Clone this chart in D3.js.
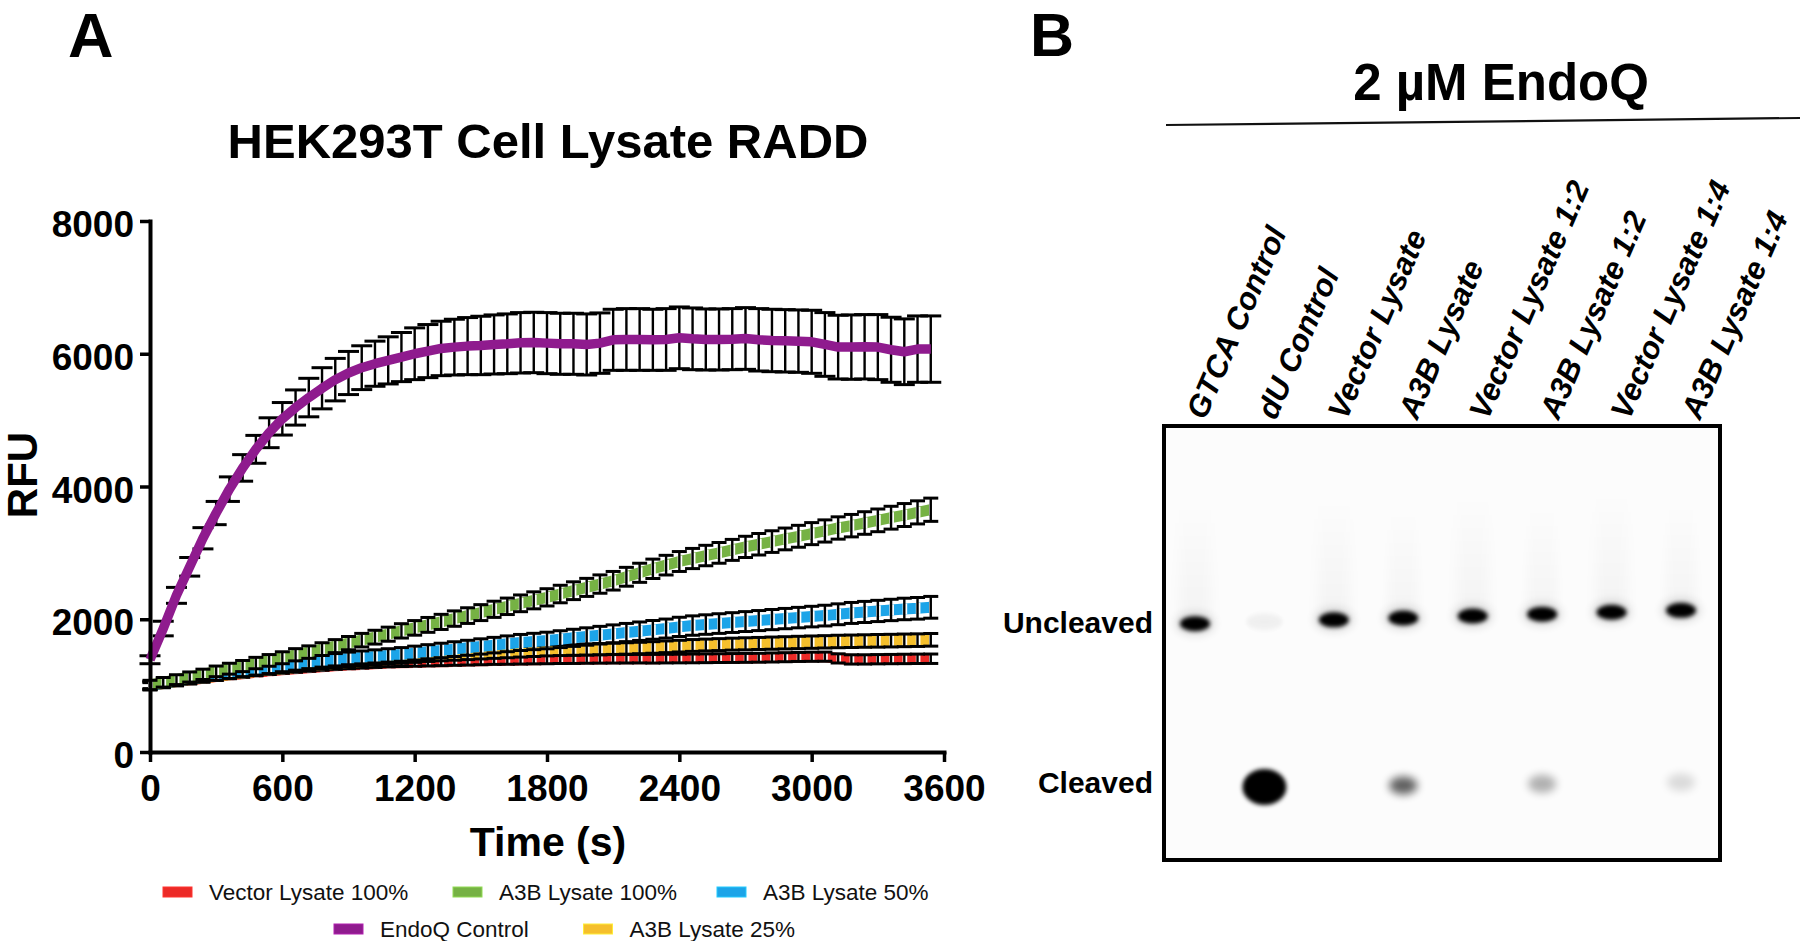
<!DOCTYPE html>
<html><head><meta charset="utf-8">
<script src="https://cdn.jsdelivr.net/npm/d3@7/dist/d3.min.js"></script>
<style>
body{margin:0;background:#fff}
svg{display:block}
text{font-family:"Liberation Sans",Arial,Helvetica,sans-serif}
</style>
</head><body>
<svg id="chart" width="1800" height="941"></svg>
<script>
// ---------------- DATA ----------------
const timePoints = [0,60,120,180,240,300,360,420,480,540,600,660,720,780,840,900,960,1020,1080,1140,
  1200,1260,1320,1380,1440,1500,1560,1620,1680,1740,1800,1860,1920,1980,2040,2100,2160,2220,2280,2340,
  2400,2460,2520,2580,2640,2700,2760,2820,2880,2940,3000,3060,3120,3180,3240,3300,3360,3420,3480,3540];

const vectorLysate100 = [1000,1030,1060,1085,1110,1135,1160,1180,1200,1220,1240,1255,1270,1285,1300,1310,1320,1330,1340,1345,
  1350,1355,1360,1365,1370,1375,1380,1383,1386,1390,1392,1395,1397,1400,1402,1404,1405,1406,1405,1407,
  1408,1410,1412,1414,1416,1418,1420,1424,1428,1432,1435,1436,1410,1395,1395,1398,1400,1402,1404,1405];
const vectorLysate100SD = [45,46,47,48,48,49,50,50,51,52,52,53,54,54,55,55,56,56,57,57,
  58,58,59,59,60,60,60,61,61,62,62,62,63,63,63,64,64,64,65,65,
  65,66,66,66,67,67,67,68,68,68,69,69,69,70,70,70,70,71,71,71];

const a3bLysate100 = [1010,1050,1090,1130,1170,1215,1255,1295,1340,1380,1420,1465,1505,1550,1595,1640,1685,1730,1775,1825,
  1870,1915,1960,2010,2055,2100,2150,2195,2240,2285,2330,2380,2430,2480,2530,2580,2640,2700,2760,2815,
  2870,2915,2960,3000,3045,3090,3130,3170,3210,3250,3290,3330,3375,3410,3450,3490,3530,3570,3610,3650];
const a3bLysate100SD = [70,72,74,76,78,80,82,84,86,88,90,92,94,96,98,100,102,104,106,108,
  110,112,114,116,118,120,122,124,126,128,130,132,134,136,138,140,142,144,146,148,
  150,152,154,156,158,160,162,163,164,165,166,167,168,169,170,171,172,173,174,175];

const a3bLysate50 = [1000,1035,1065,1095,1125,1155,1185,1215,1240,1265,1295,1320,1345,1370,1390,1410,1425,1440,1455,1470,
  1490,1510,1530,1550,1570,1590,1610,1630,1650,1665,1680,1700,1720,1740,1760,1780,1800,1820,1840,1860,
  1885,1905,1920,1935,1950,1965,1980,1995,2010,2025,2040,2055,2075,2095,2110,2125,2140,2155,2165,2180];
const a3bLysate50SD = [65,67,69,71,73,75,77,79,81,83,85,87,89,91,93,95,97,99,101,103,
  105,107,109,111,113,115,117,119,121,123,125,127,129,131,133,135,137,139,141,143,
  145,146,147,148,149,150,151,152,153,154,155,156,157,158,159,160,161,162,163,164];

const endoQControl = [1390,1860,2360,2790,3220,3600,3960,4280,4560,4810,5020,5190,5340,5480,5610,5710,5790,5850,5900,5950,
  6000,6040,6080,6100,6115,6125,6140,6150,6165,6170,6160,6150,6150,6140,6160,6210,6215,6215,6210,6215,
  6240,6225,6215,6215,6220,6230,6210,6200,6195,6190,6180,6140,6100,6100,6105,6100,6060,6030,6070,6070];
const endoQControlSD = [60,110,120,140,160,175,185,200,210,225,245,265,290,310,320,325,330,340,355,370,
  390,400,410,420,430,440,445,450,455,455,460,460,460,460,455,460,465,465,460,465,
  465,465,460,460,460,465,470,470,470,470,475,480,480,485,485,490,490,495,500,500];

const a3bLysate25 = [1000,1030,1060,1090,1115,1140,1165,1190,1215,1235,1255,1275,1295,1315,1335,1350,1365,1380,1395,1410,
  1425,1440,1450,1460,1470,1480,1490,1500,1510,1520,1530,1535,1540,1545,1550,1555,1560,1567,1575,1585,
  1595,1605,1612,1618,1625,1630,1635,1640,1645,1650,1655,1660,1665,1668,1672,1675,1678,1682,1685,1690];
const a3bLysate25SD = [55,56,57,58,59,60,61,62,63,64,65,66,67,68,69,70,71,72,73,74,
  75,76,76,77,78,78,79,80,80,81,82,82,83,84,84,85,86,86,87,88,
  88,89,89,90,90,91,91,92,92,93,93,93,94,94,94,95,95,95,95,95];

const seriesNames = ["Vector Lysate 100%","A3B Lysate 100%","A3B Lysate 50%","EndoQ Control","A3B Lysate 25%"];
const seriesColors = ["#ec2a27","#76b244","#1ca4e8","#8f1b8e","#f5bf2c"];

const yTicks = [0,2000,4000,6000,8000];
const xTicks = [0,600,1200,1800,2400,3000,3600];

// Gel (panel B)
const laneLabels = ["GTCA Control","dU Control","Vector Lysate","A3B Lysate","Vector Lysate 1:2","A3B Lysate 1:2","Vector Lysate 1:4","A3B Lysate 1:4"];
const bandRows = ["Uncleaved","Cleaved"];
const uncleavedSignal = [100,4,100,95,100,95,100,95];
const cleavedSignal = [0,250,0,62,0,30,0,13];

// ---------------- DRAW ----------------
const svg = d3.select("#chart");
svg.append("rect").attr("width",1800).attr("height",941).attr("fill","#fff");

const defs = svg.append("defs");
const mkBlur = (id,sd)=>defs.append("filter").attr("id",id).attr("x","-100%").attr("y","-100%")
  .attr("width","300%").attr("height","300%").append("feGaussianBlur").attr("stdDeviation",sd);
mkBlur("blur2",2.3); mkBlur("blur4",4); mkBlur("blur6",6);

// Panel letters
svg.append("text").attr("x",68).attr("y",57).attr("font-size",63).attr("font-weight","bold").text("A");
svg.append("text").attr("x",1030).attr("y",56).attr("font-size",61).attr("font-weight","bold").text("B");

// ---- Panel A ----
const x = d3.scaleLinear().domain([0,3600]).range([150,944]);
const y = d3.scaleLinear().domain([0,8000]).range([752,221]);

svg.append("text").attr("x",548).attr("y",158).attr("text-anchor","middle")
  .attr("font-size",49).attr("font-weight","bold").text("HEK293T Cell Lysate RADD");

const series = [
  {name:seriesNames[0], color:seriesColors[0], v:vectorLysate100, sd:vectorLysate100SD},
  {name:seriesNames[4], color:seriesColors[4], v:a3bLysate25, sd:a3bLysate25SD},
  {name:seriesNames[2], color:seriesColors[2], v:a3bLysate50, sd:a3bLysate50SD},
  {name:seriesNames[1], color:seriesColors[1], v:a3bLysate100, sd:a3bLysate100SD},
  {name:seriesNames[3], color:seriesColors[3], v:endoQControl, sd:endoQControlSD, barsBelow:true}
];

const plot = svg.append("g");
const line = d3.line().x(d=>x(d.t)).y(d=>y(d.v));

series.forEach(s=>{
  const pts = timePoints.map((t,i)=>({t, v:s.v[i], sd:s.sd[i]}));
  const g = plot.append("g");
  const capW = s.barsBelow ? 10.5 : 7.5;
  const drawBars = (halo)=>{
    const eb = g.append("g");
    if(halo){
      eb.selectAll("line.halo").data(pts).join("line")
        .attr("x1",d=>x(d.t)+0.6).attr("x2",d=>x(d.t)+0.6)
        .attr("y1",d=>y(d.v)-5.5).attr("y2",d=>y(d.v)+5.5)
        .attr("stroke","#fff").attr("stroke-width",4.6);
    }
    eb.selectAll("line.v").data(pts).join("line")
      .attr("x1",d=>x(d.t)).attr("x2",d=>x(d.t))
      .attr("y1",d=>y(d.v+d.sd)).attr("y2",d=>y(d.v-d.sd))
      .attr("stroke","#000").attr("stroke-width",2.4);
    eb.selectAll("line.top").data(pts).join("line")
      .attr("x1",d=>x(d.t)-capW).attr("x2",d=>x(d.t)+capW)
      .attr("y1",d=>y(d.v+d.sd)).attr("y2",d=>y(d.v+d.sd))
      .attr("stroke","#000").attr("stroke-width",3);
    eb.selectAll("line.bot").data(pts).join("line")
      .attr("x1",d=>x(d.t)-capW).attr("x2",d=>x(d.t)+capW)
      .attr("y1",d=>y(d.v-d.sd)).attr("y2",d=>y(d.v-d.sd))
      .attr("stroke","#000").attr("stroke-width",3);
  };
  if(s.barsBelow){
    drawBars(false);
    g.append("path").datum(pts).attr("d",line).attr("fill","none")
      .attr("stroke",s.color).attr("stroke-width",9.5).attr("stroke-linejoin","round");
  } else {
    g.append("path").datum(pts).attr("d",line).attr("fill","none")
      .attr("stroke",s.color).attr("stroke-width",11).attr("stroke-linejoin","round");
    drawBars(true);
  }
});

// axes
const yAxis = svg.append("g").attr("transform","translate(150,0)")
  .call(d3.axisLeft(y).tickValues(yTicks).tickFormat(d3.format("d")).tickSize(10).tickSizeOuter(0).tickPadding(6));
const xAxis = svg.append("g").attr("transform","translate(0,752)")
  .call(d3.axisBottom(x).tickValues(xTicks).tickFormat(d3.format("d")).tickSize(10).tickSizeOuter(0).tickPadding(13));
[yAxis,xAxis].forEach(a=>{
  a.select(".domain").attr("stroke","#000").attr("stroke-width",4).attr("stroke-linecap","square");
  a.selectAll(".tick line").attr("stroke","#000").attr("stroke-width",3.5);
  a.selectAll(".tick text").attr("fill","#000").attr("font-size",37).attr("font-weight","bold")
    .attr("font-family","'Liberation Sans',Arial,sans-serif");
});
yAxis.selectAll(".tick text").attr("dy","0.42em");

svg.append("text").attr("transform","translate(37,475) rotate(-90)").attr("text-anchor","middle")
  .attr("font-size",42).attr("font-weight","bold").text("RFU");
svg.append("text").attr("x",548).attr("y",856).attr("text-anchor","middle")
  .attr("font-size",41).attr("font-weight","bold").text("Time (s)");

// legend
const legendLayout = [
  {i:0, x:163, y:892}, {i:1, x:453, y:892}, {i:2, x:717, y:892},
  {i:3, x:334, y:929}, {i:4, x:583.5, y:929}
];
const lg = svg.append("g");
legendLayout.forEach(l=>{
  const c = d3.color(seriesColors[l.i]);
  lg.append("rect").attr("x",l.x).attr("y",l.y-5).attr("width",29).attr("height",10)
    .attr("fill",seriesColors[l.i]).attr("stroke",c.brighter(0.6)).attr("stroke-width",1);
  lg.append("text").attr("x",l.x+46).attr("y",l.y+8).attr("font-size",22.5).attr("fill","#111")
    .text(seriesNames[l.i]);
});

// ---- Panel B ----
svg.append("text").attr("x",1501).attr("y",100).attr("text-anchor","middle")
  .attr("font-size",51).attr("font-weight","bold").text("2 \u00B5M EndoQ");
svg.append("line").attr("x1",1166).attr("y1",125).attr("x2",1800).attr("y2",118)
  .attr("stroke","#111").attr("stroke-width",2.2);

const gelX0 = 1164, gelX1 = 1720, gelY0 = 426, gelY1 = 860;
const lane = d3.scalePoint().domain(laneLabels).range([1195,1681]);
const laneText = d3.scalePoint().domain(laneLabels).range([1205,1700]);
const row = d3.scalePoint().domain(bandRows).range([617,785]);
const tilt = {Uncleaved:-1.9, Cleaved:-0.8};
const bandY = (r,i)=> row(r) + tilt[r]*(i-3.5);

defs.append("clipPath").attr("id","gelclip").append("rect")
  .attr("x",gelX0).attr("y",gelY0).attr("width",gelX1-gelX0).attr("height",gelY1-gelY0);
const smear = defs.append("linearGradient").attr("id","smear").attr("x1",0).attr("y1",0).attr("x2",0).attr("y2",1);
smear.append("stop").attr("offset","0%").attr("stop-color","#000").attr("stop-opacity",0);
smear.append("stop").attr("offset","100%").attr("stop-color","#000").attr("stop-opacity",0.035);

svg.append("rect").attr("x",gelX0).attr("y",gelY0).attr("width",gelX1-gelX0).attr("height",gelY1-gelY0)
  .attr("fill","#fcfcfc");
const gel = svg.append("g").attr("clip-path","url(#gelclip)");

// faint lane smears above uncleaved bands
gel.selectAll("rect.smear").data(laneLabels).join("rect")
  .attr("x",d=>lane(d)-16).attr("y",(d,i)=>bandY("Uncleaved",i)-120)
  .attr("width",32).attr("height",115)
  .attr("fill","url(#smear)")
  .attr("opacity",(d,i)=>Math.min(1,uncleavedSignal[i]/100))
  .attr("filter","url(#blur6)");

// soft halo around bands
gel.selectAll("ellipse.uhalo").data(laneLabels).join("ellipse")
  .attr("cx",d=>lane(d)).attr("cy",(d,i)=>bandY("Uncleaved",i))
  .attr("rx",20).attr("ry",12)
  .attr("fill","#000")
  .attr("opacity",(d,i)=>0.12*Math.min(1,uncleavedSignal[i]/90))
  .attr("filter","url(#blur4)");

// uncleaved bands
gel.selectAll("ellipse.unc").data(laneLabels).join("ellipse")
  .attr("cx",d=>lane(d)).attr("cy",(d,i)=>bandY("Uncleaved",i))
  .attr("rx",(d,i)=>uncleavedSignal[i]<20?18:15).attr("ry",(d,i)=>uncleavedSignal[i]<20?8:7.5)
  .attr("fill","#000")
  .attr("opacity",(d,i)=>Math.min(1,uncleavedSignal[i]/90))
  .attr("filter","url(#blur2)");

// cleaved bands
gel.selectAll("ellipse.cl").data(laneLabels).join("ellipse")
  .attr("cx",d=>lane(d)).attr("cy",(d,i)=>bandY("Cleaved",i))
  .attr("rx",(d,i)=>cleavedSignal[i]>100?22:14)
  .attr("ry",(d,i)=>cleavedSignal[i]>100?18:9)
  .attr("fill","#000")
  .attr("opacity",(d,i)=>Math.min(1,cleavedSignal[i]/100))
  .attr("filter",(d,i)=>cleavedSignal[i]>100?"url(#blur2)":"url(#blur4)");

svg.append("rect").attr("x",gelX0).attr("y",gelY0).attr("width",gelX1-gelX0).attr("height",gelY1-gelY0)
  .attr("fill","none").attr("stroke","#000").attr("stroke-width",4);

// row labels
svg.selectAll("text.row").data(bandRows).join("text")
  .attr("x",1153).attr("y",(d,i)=>row(d)+(i===0?16:8))
  .attr("text-anchor","end").attr("font-size",30).attr("font-weight","bold").text(d=>d);

// lane labels
svg.selectAll("text.lane").data(laneLabels).join("text")
  .attr("transform",d=>`translate(${laneText(d)},421) rotate(-66.5)`)
  .attr("font-size",31).attr("font-weight","bold").attr("font-style","italic").text(d=>d);
</script>
</body></html>
